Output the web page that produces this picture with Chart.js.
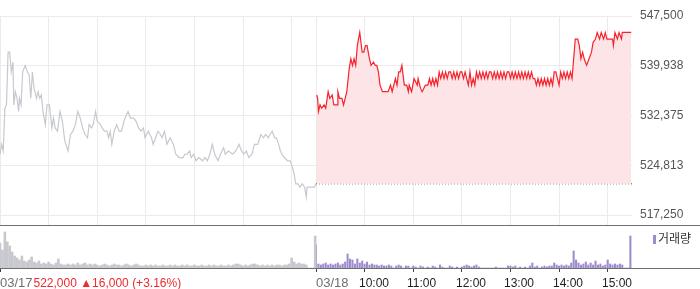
<!DOCTYPE html>
<html><head><meta charset="utf-8">
<script src="https://cdn.jsdelivr.net/npm/chart.js@4.4.1/dist/chart.umd.min.js"></script>
<style>
html,body{margin:0;padding:0;background:#fff;}
#wrap{position:relative;width:700px;height:289px;overflow:hidden;font-family:"Liberation Sans",Arial,sans-serif;}
canvas{position:absolute;left:0;}
.lbl{position:absolute;top:277px;font-size:12px;line-height:12px;white-space:nowrap;}
.date{color:#6f6f6f;font-size:13px;line-height:13px;top:276px;}
.time{color:#1e1e1e;}
#summary{color:#ee2a2f;}
#legend{position:absolute;left:653px;top:232px;font-family:"Noto Sans CJK KR",sans-serif;font-size:12px;line-height:12px;color:#333;white-space:nowrap;}
#legend i{display:inline-block;width:3px;height:9px;background:#9d8bcb;margin-right:2px;vertical-align:-1px;}
</style></head>
<body>
<div id="wrap">
<canvas id="price" width="700" height="226" style="top:0"></canvas>
<canvas id="vol" width="700" height="63" style="top:226px"></canvas>
<div id="legend"><i></i>거래량</div>
</div>
<script>
// ---- data ----
const xGridMinutes = [0,60,120,180,240,300,360,390,450,510,570,630,690,750];
const yTickValues = [517250, 524812.5, 532375, 539937.5, 547500];
const yTickLabels = ['517,250','524,813','532,375','539,938','547,500'];
const prevClose = 522000;
const bottomTickMinutes = [0,390,450,510,570,630,690,750];
const bottomTickLabels = ['03/17','03/18','10:00','11:00','12:00','13:00','14:00','15:00'];
const summaryText = '522,000 \u25B216,000 (+3.16%)';
const legendLabel = '거래량';

// 03/17 session (minutes from 09:00)
const day1Minutes = [0,2,4,6,8,10,12,14,16,17,19,21,23,24,26,28,31,34,36,38,40,42,45,47,49,51,53,56,58,61,64,66,68,71,74,77,80,84,87,90,93,96,99,102,105,108,110,113,115,118,120,124,126,129,132,134,136,138,141,144,147,150,153,156,158,161,165,168,171,174,177,179,183,187,189,192,195,198,200,203,206,210,214,217,221,226,228,231,234,236,239,242,245,250,253,256,259,262,265,269,272,276,278,282,287,291,295,298,301,304,307,311,314,318,322,325,328,331,333,336,339,341,344,346,348,351,355,358,361,363,365,368,370,373,376,378,379,383,388,390];
const day1Prices = [526500,528000,527000,533500,534000,542000,542000,539000,540500,534000,536000,535000,533000,535000,534000,539000,540000,539000,538500,535000,539000,536500,535000,536000,535000,535500,533000,531000,534000,534000,530500,532000,530500,530000,533000,531500,528500,527000,529500,530000,531000,533000,532000,530500,529500,529000,531000,530500,531000,533000,531500,531000,530500,530000,530000,529000,530000,528000,530000,531000,530000,530000,531500,532500,533000,532000,532000,531500,530500,530000,530500,529000,530000,529000,528000,529000,530000,529500,529000,530000,528000,529000,528000,526500,526000,526000,526500,526500,527000,526000,526500,525500,526000,525500,526000,525500,526500,528000,526500,525500,526500,527500,526500,527000,526500,527000,528000,527000,526500,527000,526000,526500,528000,528000,529500,529000,529500,529000,529500,530000,529000,529000,528000,527000,526500,526000,525500,525500,524500,523500,522000,522000,521500,522000,521500,520000,521500,521500,521500,522000];

// 03/18 session (minutes from 03/17 09:00; 390 = 03/18 09:00)
const day2Minutes = [391,392,393,395,397,400,402,405,407,410,412,416,417,419,422,424,426,428,431,433,435,437,439,441,444,447,449,451,453,456,458,461,463,465,467,469,472,475,479,482,484,488,490,492,494,496,499,502,504,505,508,511,515,516,519,521,523,525,528,530,532,534,536,538,540,542,544,546,548,550,552,554,556,558,560,562,564,566,568,570,572,574,576,578,580,582,584,586,588,590,592,594,596,598,600,602,604,606,608,610,612,614,616,618,620,622,624,626,628,630,632,634,636,638,640,642,644,646,648,650,652,654,656,658,660,662,664,666,668,670,672,674,676,678,680,682,684,686,688,690,692,694,696,698,700,702,704,706,708,710,713,715,717,719,721,724,727,730,732,735,737,740,742,745,747,749,756,757,759,762,764,767,768,779];
const day2Prices = [535500,535000,533000,534000,533500,534000,533500,536000,535000,535500,534000,534000,536000,535000,535000,534000,535000,536000,539500,541000,540000,541000,540000,543000,545000,542000,542000,543000,543000,541000,540000,540500,540000,540000,539000,537000,536000,536000,536000,537000,536000,538000,537000,539000,539000,540000,537000,537000,536000,537000,536000,538000,537000,538000,536500,536000,536500,537000,537000,538000,537000,538000,537000,538000,537000,539000,538000,539000,538000,539000,538000,539000,539000,538000,539000,538000,539000,538000,539000,539000,538000,539000,538000,537000,539000,537000,538000,537000,539000,538000,539000,538000,539000,538000,539000,538000,539000,539000,538000,539000,538000,539000,538000,539000,538000,539000,538000,539000,539000,538000,539000,538000,539000,538000,539000,538000,539000,538000,539000,538000,539000,538000,539000,538000,538000,537000,538000,537000,538000,537000,538000,537000,538000,537000,538000,537000,539000,539000,538000,537000,539000,538000,539000,538000,539000,538000,539000,538000,541000,544000,544000,543000,541000,542000,541000,540000,541000,542000,543500,544000,545000,544000,545000,544000,545000,544000,544000,543000,545000,544000,545000,544000,545000,545000];

// volume, one value per 3-minute slot
const volSlotMinutes = 3;
const day1Volume = [25,18,36,26,22,16,12,10,8,12,7,6,8,11,6,5,7,4,5,4,6,4,3,5,9,4,3,
 3,4,3,4,3,5,3,4,5,3,4,3,4,3,2,3,4,3,2,3,4,3,3,2,3,4,3,2,3,4,3,2,2,3,2,3,2,3,2,2,3,2,2,3,2,3,2,2,3,2,3,2,2,3,2,2,3,2,2,3,2,3,2,2,3,2,2,3,2,3,4,4,3,2,3,2,3,4,4,3,2,3,2,3,2,3,2,3,3,2,3,3,4,10,6,4,5,4,4,3,0,0,0];
const day2Volume = [23,4,3,4,5,3,4,3,4,5,3,4,6,14,9,8,4,9,5,7,4,6,3,4,3,3,2,3,2,2,3,2,0,2,3,2,0,2,2,0,2,1,0,2,1,0,1,0,2,1,0,3,1,0,0,2,1,0,1,0,1,2,3,2,1,2,3,1,0,0,0,0,0,0,1,0,0,0,0,2,2,1,2,0,1,0,1,0,2,5,1,2,0,1,2,1,2,2,5,3,2,3,2,3,2,5,17,8,5,3,4,6,3,5,3,7,3,4,2,3,8,4,3,4,3,4,3,0,0,0];
const auctionMinutes = [389, 778];
const auctionVolumes = [32, 32];

// ---- helpers ----
const pts = (xs, ys) => xs.map((x, i) => ({x, y: ys[i]}));
const fullWidthLine = {
  id: 'fullWidthLine',
  afterDraw(chart, args, opts) {
    const c = chart.ctx, y = Math.round(chart.chartArea.bottom) + 0.5;
    c.save(); c.strokeStyle = opts.color; c.lineWidth = 1;
    c.beginPath(); c.moveTo(0, y); c.lineTo(chart.width, y); c.stroke(); c.restore();
  }
};
const FONT = {family: '"Liberation Sans", Arial, sans-serif', size: 12};

// ---- price chart ----
function priceConfig() {
  return {
  type: 'line',
  data: { datasets: [
    { data: pts(day1Minutes, day1Prices), borderColor: '#c6c9cf', borderWidth: 1.2, pointRadius: 0, fill: false, tension: 0 },
    { data: pts(day2Minutes, day2Prices), borderColor: '#f6232d', borderWidth: 1.2, pointRadius: 0, tension: 0,
      fill: {value: prevClose}, backgroundColor: '#fde5e7' },
    { data: [{x: 390, y: prevClose}, {x: 780, y: prevClose}], borderColor: '#555', borderWidth: 1, borderDash: [1, 2], pointRadius: 0, fill: false }
  ]},
  options: {
    responsive: false, animation: false, devicePixelRatio: 1,
    layout: {padding: {top: 16, bottom: 1, left: 0, right: 0}},
    plugins: {legend: {display: false}, tooltip: {enabled: false}, fullWidthLine: {color: '#707070'}},
    scales: {
      x: { type: 'linear', min: 0, max: 780,
        afterBuildTicks: s => { s.ticks = xGridMinutes.map(v => ({value: v})); },
        afterFit: s => { s.height = 0; },
        ticks: {display: false}, grid: {color: '#ebebeb', drawTicks: false}, border: {display: false} },
      y: { position: 'right', min: 515780, max: 547500,
        afterBuildTicks: s => { s.ticks = yTickValues.map(v => ({value: v})); },
        afterFit: s => { s.width = 68; },
        ticks: {callback: (v, i) => yTickLabels[i], padding: 8, color: '#555', font: FONT},
        grid: {color: '#ebebeb', drawTicks: false}, border: {display: false} }
    }
  },
  plugins: [fullWidthLine]
  };
}
const priceCanvas = document.getElementById('price');
let priceChart = new Chart(priceCanvas, priceConfig());
// make the plot area end exactly at y = 225 (separator line)
for (let k = 0; k < 3; k++) {
  const d = Math.round(225 - priceChart.chartArea.bottom);
  if (d === 0) break;
  priceChart.destroy();
  priceCanvas.height = priceCanvas.height + d;
  priceCanvas.width = 700;
  priceChart = new Chart(priceCanvas, priceConfig());
}

// ---- volume chart ----
const volChart = new Chart(document.getElementById('vol'), {
  type: 'bar',
  data: { datasets: [
    { data: day1Volume.map((v, i) => ({x: i * volSlotMinutes, y: v})).concat([{x: auctionMinutes[0], y: auctionVolumes[0]}]),
      backgroundColor: '#c8c9ce', barThickness: 2, grouped: false },
    { data: day2Volume.map((v, i) => ({x: 390 + i * volSlotMinutes, y: v})).concat([{x: auctionMinutes[1], y: auctionVolumes[1]}]),
      backgroundColor: '#9d8bcb', barThickness: 1.4, grouped: false, label: legendLabel }
  ]},
  options: {
    responsive: false, animation: false, devicePixelRatio: 1,
    layout: {padding: {top: 2, bottom: 0, left: 0, right: 68}},
    plugins: {legend: {display: false}, tooltip: {enabled: false}, fullWidthLine: {color: '#707070'}},
    scales: {
      x: { type: 'linear', min: 0, max: 780, offset: false,
        afterBuildTicks: s => { s.ticks = bottomTickMinutes.map(v => ({value: v})); },
        afterFit: s => { s.height = 21; },
        ticks: {display: false},
        grid: {drawOnChartArea: false, drawTicks: true, tickLength: 4, color: '#444', offset: false},
        border: {display: false} },
      y: { display: false, min: 0, max: 40 }
    }
  },
  plugins: [fullWidthLine]
});

// ---- bottom labels (real text, positioned through the volume x scale) ----
const wrap = document.getElementById('wrap');
const xs = volChart.scales.x;
bottomTickMinutes.forEach((m, i) => {
  const s = document.createElement('span');
  const isDate = bottomTickLabels[i].includes('/');
  s.className = 'lbl ' + (isDate ? 'date' : 'time');
  s.textContent = bottomTickLabels[i];
  s.style.left = (Math.round(xs.getPixelForValue(m)) + (isDate ? 0 : -6)) + 'px';
  wrap.appendChild(s);
});
const sum = document.createElement('span');
sum.id = 'summary'; sum.className = 'lbl'; sum.textContent = summaryText;
sum.style.left = '33.5px';
wrap.appendChild(sum);
</script>
</body></html>
